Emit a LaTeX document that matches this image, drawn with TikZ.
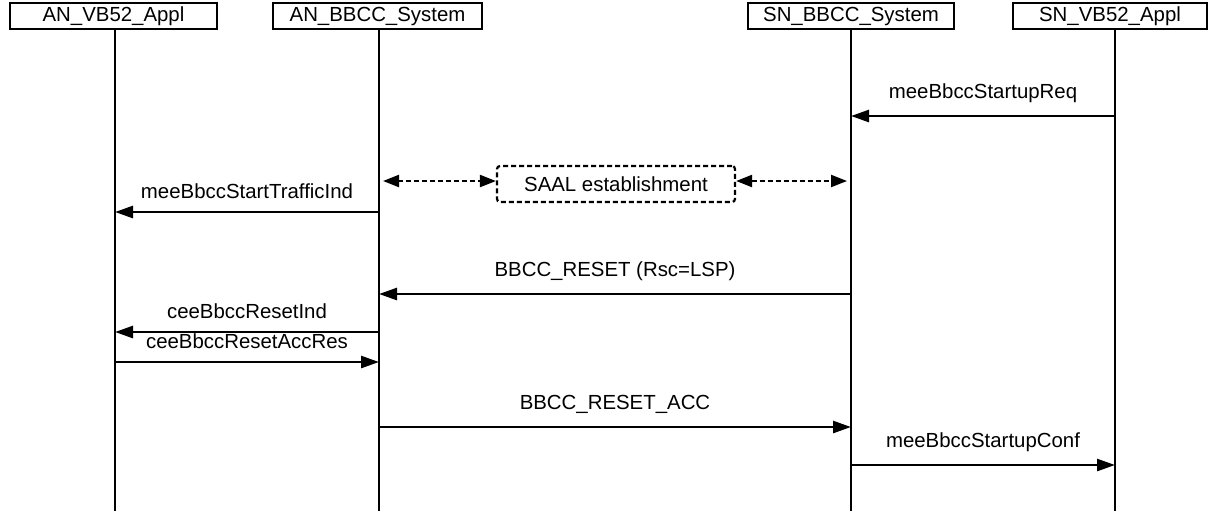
\documentclass[tikz,border=0pt]{standalone}
\usepackage{fontspec}
\setmainfont{Liberation Sans}
\usetikzlibrary{arrows.meta, positioning}

\tikzset{
  entity/.style={draw, line width=0.6pt, minimum height=13pt, inner sep=0pt, font=\fontsize{10.2}{12}\selectfont},
  life/.style={line width=1.1pt},
  msg/.style={line width=1.3pt, -{Triangle[length=9pt,width=6pt]}},
  saal/.style={line width=1.1pt, dashed, dash pattern=on 2.5pt off 1.5pt, {Triangle[length=8pt,width=6pt]}-{Triangle[length=8pt,width=6pt]}},
  lbl/.style={above=2.5pt, font=\fontsize{10.2}{12}\selectfont}
}

\begin{document}
\begin{tikzpicture}[x=0.5pt, y=-0.5pt]
\useasboundingbox (0,0) rectangle (1208,511);

\node[entity, minimum width=103.5pt] (anapp) at (113.5, 16) {AN\_VB52\_Appl};
\node[entity, minimum width=104.5pt] (ansys) at (377.5, 16) {AN\_BBCC\_System};
\node[entity, minimum width=103pt] (snsys) at (851, 16) {SN\_BBCC\_System};
\node[entity, minimum width=97pt] (snapp) at (1110, 16) {SN\_VB52\_Appl};

% lifelines
\coordinate (a0) at (115, 29);  \coordinate (a1) at (115, 511);
\coordinate (b0) at (379, 29);  \coordinate (b1) at (379, 511);
\coordinate (c0) at (851, 29);  \coordinate (c1) at (851, 511);
\coordinate (d0) at (1115, 29); \coordinate (d1) at (1115, 511);
\draw[life] (a0) -- (a1);
\draw[life] (b0) -- (b1);
\draw[life] (c0) -- (c1);
\draw[life] (d0) -- (d1);

% SAAL
\node[draw, dashed, dash pattern=on 2.5pt off 1.5pt, line width=1.1pt, rounded corners=1.5pt,
      minimum width=119pt, minimum height=18pt, font=\fontsize{10.2}{12}\selectfont] (saalbox) at (616, 184) {SAAL establishment};
\coordinate (s1) at (383, 181);
\coordinate (s2) at (847, 181);
\draw[saal] (s1) -- (saalbox.west |- s1);
\draw[saal] (saalbox.east |- s2) -- (s2);

% messages
\draw[msg] (d0 |- 0,116) -- node[lbl] {meeBbccStartupReq} (c0 |- 0,116);
\draw[msg] (b0 |- 0,212) -- node[lbl] {meeBbccStartTrafficInd} (a0 |- 0,212);
\draw[msg] (c0 |- 0,294) -- node[lbl] {BBCC\_RESET (Rsc=LSP)} (b0 |- 0,294);
\draw[msg] (b0 |- 0,332) -- node[lbl] {ceeBbccResetInd} (a0 |- 0,332);
\draw[msg] (a0 |- 0,362) -- node[lbl] {ceeBbccResetAccRes} (b0 |- 0,362);
\draw[msg] (b0 |- 0,427) -- node[lbl] {BBCC\_RESET\_ACC} (c0 |- 0,427);
\draw[msg] (c0 |- 0,465) -- node[lbl] {meeBbccStartupConf} (d0 |- 0,465);
\end{tikzpicture}
\end{document}
